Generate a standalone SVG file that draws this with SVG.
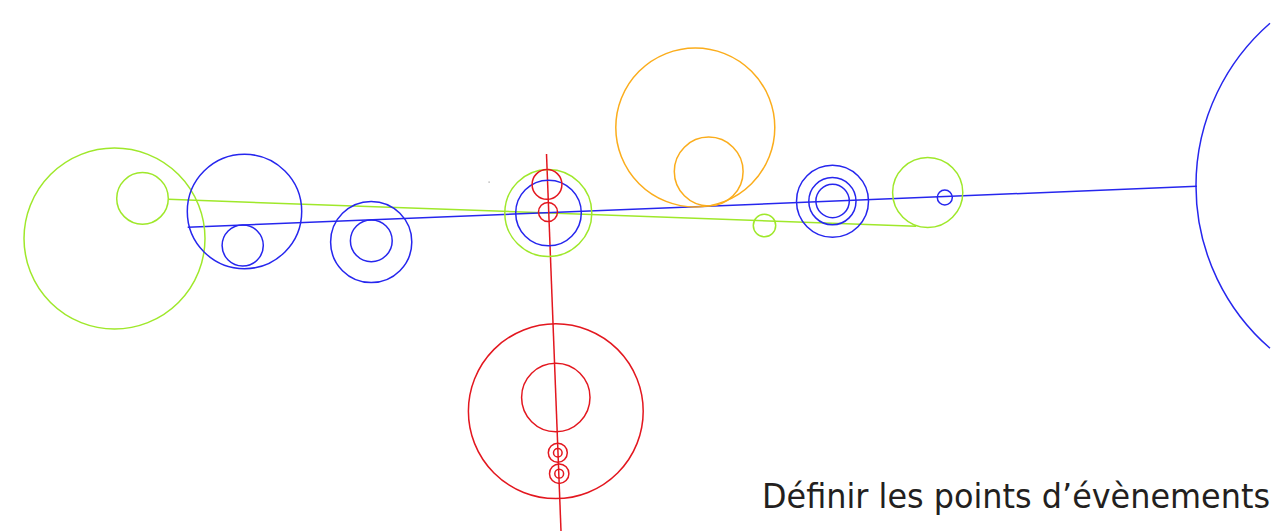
<svg xmlns="http://www.w3.org/2000/svg" width="1274" height="531" viewBox="0 0 1274 531">
  <style>
    .g { fill: none; stroke: #9fe82a; stroke-width: 1.5; }
    .b { fill: none; stroke: #2626ee; stroke-width: 1.5; }
    .r { fill: none; stroke: #e3171f; stroke-width: 1.5; }
    .o { fill: none; stroke: #fbad1c; stroke-width: 1.5; }
    .lbl { font-family: "DejaVu Sans", Verdana, sans-serif; font-size: 34.5px; fill: #231f20; }
  </style>
  <rect width="1274" height="531" fill="#ffffff"/>
  <g id="connectors">
    <line class="g" x1="168.3" y1="199.3" x2="916" y2="226.2"/>
    <line class="b" x1="187.7" y1="227.3" x2="1197" y2="186.3"/>
    <line class="r" x1="546.5" y1="154" x2="561" y2="531"/>
  </g>
  <g id="node-green-left">
    <circle class="g" cx="114.5" cy="238.5" r="90.5"/>
    <circle class="g" cx="142.5" cy="198.4" r="25.8"/>
  </g>
  <g id="node-blue-1">
    <circle class="b" cx="244.5" cy="211.5" r="57.2"/>
    <circle class="b" cx="242.7" cy="245.5" r="20.6"/>
  </g>
  <g id="node-blue-2">
    <circle class="b" cx="371.2" cy="242" r="40.6"/>
    <circle class="b" cx="371.3" cy="240.8" r="20.9"/>
  </g>
  <g id="node-center">
    <circle class="g" cx="548.3" cy="213" r="43.5"/>
    <circle class="b" cx="548.5" cy="213" r="32.8"/>
    <circle class="r" cx="547" cy="184.4" r="14.9"/>
    <circle class="r" cx="548" cy="212" r="9.5"/>
  </g>
  <g id="node-red-bottom">
    <circle class="r" cx="555.8" cy="411.2" r="87.4"/>
    <circle class="r" cx="555.8" cy="397.5" r="34.2"/>
    <circle class="r" cx="557.8" cy="452.8" r="9.5"/>
    <circle class="r" cx="557.8" cy="452.8" r="4.3"/>
    <circle class="r" cx="559.2" cy="473.7" r="9.7"/>
    <circle class="r" cx="559.2" cy="473.7" r="4.4"/>
  </g>
  <g id="node-orange">
    <circle class="o" cx="695.3" cy="127.5" r="79.5"/>
    <circle class="o" cx="708.7" cy="171.5" r="34.4"/>
  </g>
  <g id="node-green-small">
    <circle class="g" cx="764.5" cy="225.5" r="11.2"/>
  </g>
  <g id="node-blue-triple">
    <circle class="b" cx="832.5" cy="201.2" r="36"/>
    <circle class="b" cx="832.4" cy="201.2" r="23.6"/>
    <circle class="b" cx="832.6" cy="201" r="16.7"/>
  </g>
  <g id="node-green-right">
    <circle class="g" cx="927.7" cy="192.5" r="35.1"/>
    <circle class="b" cx="944.8" cy="197.5" r="7.5"/>
  </g>
  <g id="node-blue-arc">
    <path class="b" d="M1270,23.3 A215.4,215.4 0 0 0 1270,348.3"/>
  </g>
  <rect x="488.5" y="181.5" width="1.2" height="1.2" fill="#9a9a9a"/>
  <text class="lbl" x="762" y="507.5" textLength="508" lengthAdjust="spacingAndGlyphs">Définir les points d’évènements</text>
</svg>
